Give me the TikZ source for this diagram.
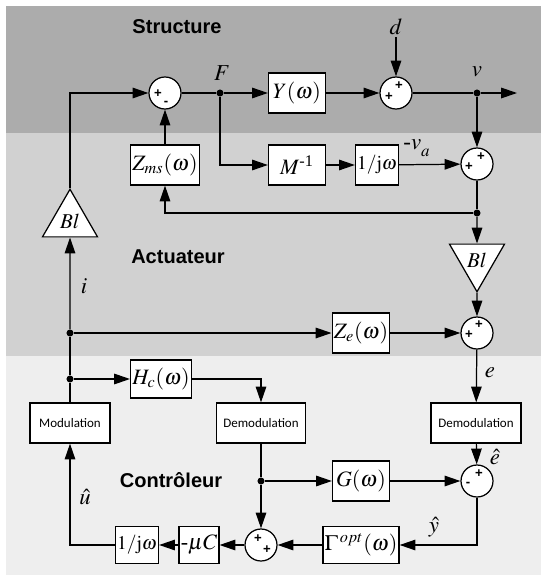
\documentclass[tikz,border=0pt]{standalone}
\usepackage{mathptmx}
\usepackage{amsmath}
\usepackage{fontspec}
\setmainfont{Liberation Serif}
\setsansfont{Liberation Sans}
\newfontfamily\modfont{Carlito}
\usetikzlibrary{arrows.meta,shapes.geometric}

\definecolor{bandS}{gray}{0.675}
\definecolor{bandA}{gray}{0.82}
\definecolor{bandC}{gray}{0.935}

\begin{document}
\begin{tikzpicture}[x=0.02cm,y=-0.02cm]

\tikzset{
  blk/.style = {draw, fill=white, line width=0.7pt, minimum height=0.8cm,
                inner sep=1pt, font=\fontsize{12.5}{14}\selectfont},
  modblk/.style = {draw, fill=white, line width=0.7pt, minimum height=0.8cm,
                inner sep=1pt, font=\modfont\fontsize{7.4}{9}\selectfont},
  sum/.style = {draw, circle, fill=white, line width=0.7pt,
                minimum size=0.64cm, inner sep=0pt},
  gain/.style = {draw, fill=white, line width=0.7pt, regular polygon,
                regular polygon sides=3, minimum size=1.27cm, inner sep=0pt,
                font=\fontsize{12}{14}\selectfont},
  sgn/.style = {inner sep=0pt, font=\sffamily\bfseries\fontsize{7.5}{8}\selectfont},
  dot/.style = {circle, fill, inner sep=0pt, minimum size=4pt},
  sig/.style = {inner sep=1pt, font=\fontsize{13}{15}\selectfont},
  zone/.style = {font=\sffamily\bfseries\fontsize{11.4}{13}\selectfont},
  conn/.style = {line width=0.7pt, -{Triangle[length=9pt,width=6pt]}},
  wire/.style = {line width=0.7pt}
}

  \useasboundingbox (0,0) rectangle (541,575);
  \fill[bandS] (6,6) rectangle (541,133);
  \fill[bandA] (6,133) rectangle (541,356);
  \fill[bandC] (6,356) rectangle (541,575);

  \node[zone] (tS) at (177,27) {Structure};
  \node[zone] (tA) at (178,257) {Actuateur};
  \node[zone] (tC) at (171,480) {Contrôleur};

  \node[sum] (s1) at (165,93) {};
  \node[sgn] (s1a) at ([shift={(-7,1)}]s1) {+};
  \node[sgn] (s1b) at ([shift={(1,10)}]s1) {-};
  \node[dot] (F) at (220,93) {};
  \node[sig] (Flab) at (222,73) {$F$};
  \node[blk, minimum width=1.14cm] (Y) at (297,93) {$Y(\omega)$};
  \node[sum] (s2) at (396,93) {};
  \node[sgn] (s2a) at ([shift={(3,-7)}]s2) {+};
  \node[sgn] (s2b) at ([shift={(-7,4)}]s2) {+};
  \node[sig] (dlab) at (396,27) {$d$};
  \node[dot] (vdot) at (477,93) {};
  \node[sig] (vlab) at (477,72) {$v$};
  \coordinate (vout) at (517,93);

  \node[blk, minimum width=1.22cm] (Zms) at (165,165) {$Z_{ms}(\omega)$};
  \node[blk, minimum width=1.14cm] (M) at (297,165) {$M^{\text{-1}}$};
  \node[blk, minimum width=0.8cm, font=\fontsize{11}{13}\selectfont] (ijw) at (377,165) {$1/\mathrm{j}\omega$};
  \node[sig] (valab) at (417,148) {$\text{-}v_{\raisebox{-2pt}{$\scriptstyle a$}}$};
  \node[sum] (s3) at (477,164) {};
  \node[sgn] (s3a) at ([shift={(4,-7)}]s3) {+};
  \node[sgn] (s3b) at ([shift={(-8,3)}]s3) {+};
  \node[dot] (fb) at (477,213) {};

  \node[gain] (blA) at (70,221) {$Bl$};
  \node[gain, shape border rotate=180] (blB) at (477,260) {$Bl$};
  \node[sig] (ilab) at (84,286) {$i$};

  \node[dot] (idot) at (70,333) {};
  \node[blk, minimum width=1.12cm] (Ze) at (361,333) {$Z_{e}(\omega)$};
  \node[sum] (s4) at (477,333) {};
  \node[sgn] (s4a) at ([shift={(2,-8)}]s4) {+};
  \node[sgn] (s4b) at ([shift={(-8,2)}]s4) {+};
  \node[sig] (elab) at (490,373) {$e$};

  \node[dot] (hdot) at (70,379) {};
  \node[blk, minimum width=1.14cm, minimum height=0.76cm] (Hc) at (161,379) {$H_{c}(\omega)$};
  \node[modblk, minimum width=1.6cm] (Mod) at (70,423) {Modulation};
  \node[modblk, minimum width=1.78cm] (DemA) at (261,423) {Demodulation};
  \node[modblk, minimum width=1.8cm] (DemB) at (476,423) {Demodulation};
  \node[sig] (ehat) at (495,457) {$\hat{e}$};

  \node[dot] (gdot) at (261,481) {};
  \node[blk, minimum width=1.14cm] (G) at (361,481) {$G(\omega)$};
  \node[sum] (s5) at (477,481) {};
  \node[sgn] (s5a) at ([shift={(2,-7)}]s5) {+};
  \node[sgn] (s5b) at ([shift={(-9,3)}]s5) {-};
  \node[sig] (uhat) at (85,497) {$\hat{u}$};
  \node[sig] (yhat) at (434,527) {$\hat{y}$};

  \node[sum] (s6) at (261,545) {};
  \node[sgn] (s6a) at ([shift={(-3,-6)}]s6) {+};
  \node[sgn] (s6b) at ([shift={(6,5)}]s6) {+};
  \node[blk, minimum width=1.42cm, minimum height=0.74cm] (Gam) at (361,545) {$\Gamma^{\,opt}(\omega)$};
  \node[blk, minimum width=0.7cm, minimum height=0.74cm] (muC) at (199,545) {$\text{-}\mu C$};
  \node[blk, minimum width=0.82cm, minimum height=0.74cm, font=\fontsize{11}{13}\selectfont] (ijw2) at (137,545) {$1/\mathrm{j}\omega$};

  \draw[conn] (blA.north) |- (s1.west);
  \draw[wire] (s1) -- (F);
  \draw[conn] (F) -- (Y);
  \draw[conn] (Y) -- (s2);
  \draw[conn] (dlab) -- (s2);
  \draw[wire] (s2) -- (vdot);
  \draw[conn] (vdot) -- (vout);
  \draw[conn] (vdot) -- (s3);
  \draw[conn] (F) |- (M);
  \draw[conn] (M) -- (ijw);
  \draw[conn] (ijw) -- (s3);
  \draw[conn] (Zms) -- (s1);
  \draw[wire] (s3) -- (fb);
  \draw[conn] (fb) -| (Zms);
  \draw[conn] (fb) -- (blB);
  \draw[conn] (blB) -- (s4);
  \draw[conn] (idot) -- (Ze);
  \draw[conn] (Ze) -- (s4);
  \draw[conn] (s4) -- (DemB);
  \draw[conn] (DemB) -- (s5);
  \draw[conn] (gdot) -- (G);
  \draw[conn] (G) -- (s5);
  \draw[conn] (s5) |- (Gam);
  \draw[conn] (Gam) -- (s6);
  \draw[conn] (s6) -- (muC);
  \draw[conn] (muC) -- (ijw2);
  \draw[conn] (ijw2) -| (Mod);
  \draw[wire] (Mod) -- (hdot);
  \draw[wire] (hdot) -- (idot);
  \draw[conn] (idot) -- (blA);
  \draw[conn] (hdot) -- (Hc);
  \draw[conn] (Hc) -| (DemA);
  \draw[wire] (DemA) -- (gdot);
  \draw[conn] (gdot) -- (s6);

\end{tikzpicture}
\end{document}
